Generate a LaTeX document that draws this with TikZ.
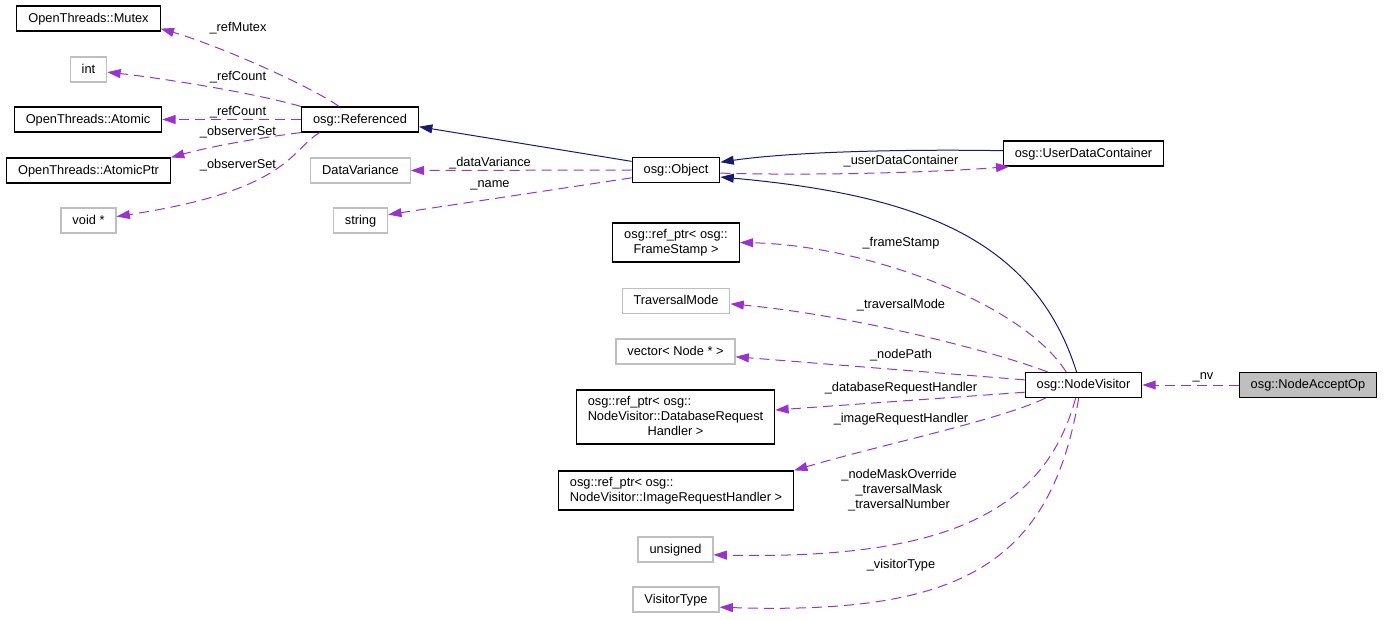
\documentclass[tikz,border=0pt]{standalone}
\usepackage{xcolor}
\usepackage{fontspec}
\setmainfont{Liberation Sans}
\usepackage{tikz}
\usetikzlibrary{arrows.meta}

\definecolor{inhnavy}{HTML}{191970}
\definecolor{useorchid}{HTML}{9A32CD}
\definecolor{extgrey}{HTML}{BFBFBF}
\newcommand{\dotfont}{\fontsize{9.6pt}{11.25pt}\selectfont}

\tikzset{
  cls/.style={draw=black, fill=white, line width=0.85pt, font=\dotfont,
    inner xsep=8.6pt, inner ysep=3.4pt, minimum height=18.75pt,
    text height=8.5pt, text depth=2.8pt},
  clsm/.style={draw=black, fill=white, line width=0.85pt, font=\dotfont,
    inner xsep=8.6pt, inner ysep=3.4pt},
  ext/.style={cls, draw=extgrey},
  lbl/.style={font=\dotfont, inner sep=0pt, align=center},
  inh/.style={draw=inhnavy, line width=0.75pt, -{Triangle[length=10pt,width=6.7pt]}},
  dep/.style={draw=useorchid, line width=0.75pt, dash pattern=on 7.5pt off 4.5pt,
    -{Triangle[length=10pt,width=6.7pt]}}
}

\begin{document}
\begin{tikzpicture}[x=0.75pt,y=0.75pt,yscale=-1,xscale=1]
\useasboundingbox (0,0) rectangle (1384,620);

% left column
\node[cls] (mutex) at (88.5,18.5) {OpenThreads::Mutex};
\node[ext] (int) at (88.5,69.5) {int};
\node[cls] (atomic) at (88,119.5) {OpenThreads::Atomic};
\node[cls] (aptr) at (88.5,170.5) {OpenThreads::AtomicPtr};
\node[ext] (voidp) at (88.5,220.5) {void *};

% second column
\node[cls] (ref) at (360,119.5) {osg::Referenced};
\node[ext] (dvar) at (360.5,170.5) {DataVariance};
\node[ext] (str) at (360.5,220.5) {string};

% middle column
\node[cls] (obj) at (676,170) {osg::Object};
\node[clsm] (frame) at (676,242.5) {\begin{tabular}{@{}c@{}}osg::ref\_ptr< osg::\\FrameStamp >\end{tabular}};
\node[ext] (tmode) at (676,301) {TraversalMode};
\node[ext] (nvec) at (675.5,351.5) {vector< Node * >};
\node[clsm] (dbrh) at (675.5,417) {\begin{tabular}{@{}l@{}}osg::ref\_ptr< osg::\\NodeVisitor::DatabaseRequest\\\multicolumn{1}{@{}c@{}}{Handler >}\end{tabular}};
\node[clsm] (imrh) at (676,490.5) {\begin{tabular}{@{}l@{}}osg::ref\_ptr< osg::\\NodeVisitor::ImageRequestHandler >\end{tabular}};
\node[ext] (uns) at (675.5,549.5) {unsigned};
\node[ext] (vtype) at (676,599.5) {VisitorType};

% right side
\node[cls] (udc) at (1083.5,153.5) {osg::UserDataContainer};
\node[cls] (nv) at (1083.5,385) {osg::NodeVisitor};
\node[cls, fill=extgrey] (nao) at (1308,385) {osg::NodeAcceptOp};

% inheritance
\draw[inh] (obj.169) -- (ref.-7);
\draw[inh] (udc.178) .. controls (900,149) and (790,152) .. (obj.10);
\draw[inh] (nv.118) .. controls (1035,240) and (920,195) .. (obj.-9);

% members
\draw[dep] (ref.148) .. controls (310,86) and (220,46) .. (mutex.-8);
\draw[dep] (ref.north west) .. controls (250,92) and (160,78) .. (int.-8);
\draw[dep] (ref.west) -- (atomic.east);
\draw[dep] (ref.south west) .. controls (250,139) and (205,148) .. (aptr.north east);
\draw[dep] (ref.198) .. controls (290,150) and (290,190) .. (voidp.8);
\draw[dep] (obj.west) -- (dvar.east);
\draw[dep] (obj.190) -- (str.12);
\draw[dep] (obj.-4) .. controls (820,176) and (940,172) .. (udc.190);
\draw[dep] (nv.143) .. controls (1020,300) and (860,245) .. (frame.east);
\draw[dep] (nv.160) .. controls (990,350) and (850,315) .. (tmode.-3);
\draw[dep] (nv.175) -- (nvec.-5);
\draw[dep] (nv.187) -- (dbrh.4);
\draw[dep] (nv.199) .. controls (1000,420) and (880,445) .. (imrh.north east);
\draw[dep] (nv.239) .. controls (1045,510) and (950,560) .. (uns.-8);
\draw[dep] (nv.250) .. controls (1050,565) and (960,615) .. (vtype.-10);
\draw[dep] (nao.west) -- (nv.east);

% edge labels
\node[lbl] (lrefmutex) at (238,28) {\_refMutex};
\node[lbl] (lrefcounta) at (238,77) {\_refCount};
\node[lbl] (lrefcountb) at (238,112) {\_refCount};
\node[lbl] (lobsa) at (238,132) {\_observerSet};
\node[lbl] (lobsb) at (238,165) {\_observerSet};
\node[lbl] (ldvar) at (490,163) {\_dataVariance};
\node[lbl] (lname) at (490,185) {\_name};
\node[lbl] (ludc) at (901,161) {\_userDataContainer};
\node[lbl] (lframe) at (901,243) {\_frameStamp};
\node[lbl] (ltmode) at (901,305) {\_traversalMode};
\node[lbl] (lpath) at (901,355) {\_nodePath};
\node[lbl] (ldbrh) at (901,388) {\_databaseRequestHandler};
\node[lbl] (limrh) at (901,419) {\_imageRequestHandler};
\node[lbl] (luns) at (899,490) {\_nodeMaskOverride\\\_traversalMask\\\_traversalNumber};
\node[lbl] (lvtype) at (901,565) {\_visitorType};
\node[lbl] (lnv) at (1203,377) {\_nv};

\end{tikzpicture}
\end{document}
